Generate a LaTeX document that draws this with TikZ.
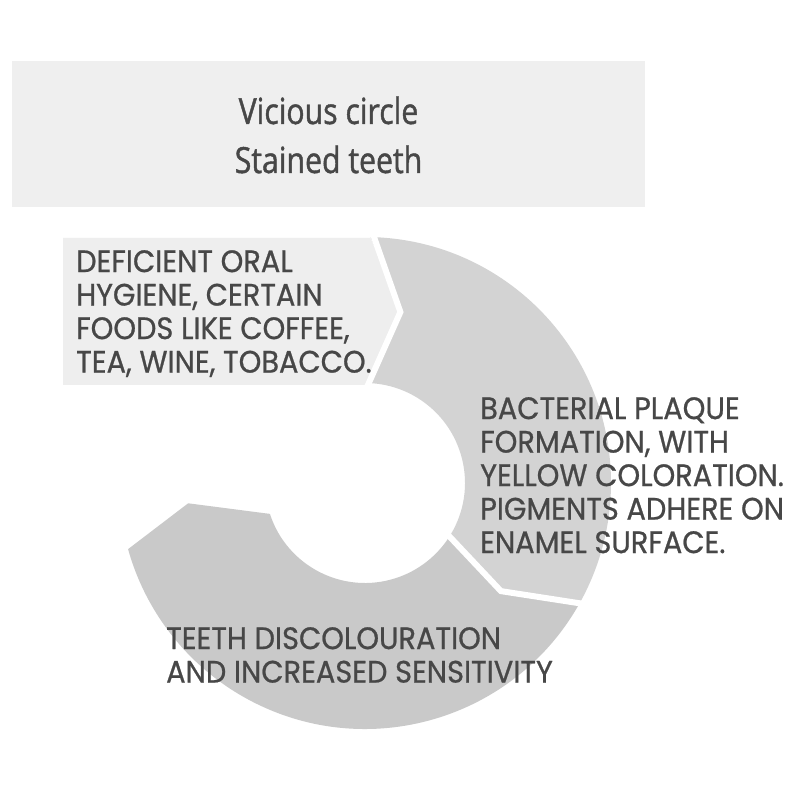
\documentclass[tikz,border=0pt]{standalone}
\usepackage{fontspec}
\newfontfamily\ringfont[FakeStretch=0.93,FakeBold=0.7]{Poppins}
\newfontfamily\titlefont[FakeStretch=0.84,FakeBold=1.2]{Open Sans}
\definecolor{titlebg}{HTML}{EFEFEF}
\definecolor{segone}{HTML}{EEEEEE}
\definecolor{segtwo}{HTML}{D3D3D3}
\definecolor{segthree}{HTML}{C9C9C9}
\definecolor{txt}{HTML}{474747}
\tikzset{
  titlebox/.style={fill=titlebg, draw=none, minimum width=633, minimum height=146, inner sep=0},
  titletext/.style={font=\titlefont\fontsize{36}{49}\selectfont, text=txt, anchor=base, inner sep=0},
  ringtext/.style={font=\ringfont\fontsize{31}{33.5}\selectfont, text=txt, anchor=north west, inner sep=0, align=left},
  gapline/.style={draw=white, line width=6},
}
\begin{document}
\begin{tikzpicture}[x=1pt,y=1pt]
\useasboundingbox (0,0) rectangle (800,800);
\fill[white] (0,0) rectangle (800,800);
% title
\node[titlebox] (title) at (328.5,665.5) {};
\node[titletext] (t1) at (328.5,676) {Vicious circle};
\node[titletext] (t2) at (328.5,627) {Stained teeth};
% ring segments
\begin{scope}[shift={(365,317)}]
\fill[segtwo] (88.7:246) arc[start angle=88.7, end angle=-28.6, radius=246] -- (-38.5:173.7) -- (-31.4:100) arc[start angle=-31.4, end angle=89.1, radius=100] -- (78.3:174.6) -- cycle;
\fill[segthree] (-28.6:246) arc[start angle=-28.6, end angle=-164.4, radius=246] -- (-173.45:178) -- (-162:100) arc[start angle=-162, end angle=-31.4, radius=100] -- (-38.5:173.7) -- cycle;
\end{scope}
\fill[segone] (63,562) -- (370.5,562) -- (400.5,488) -- (366.5,415) -- (63,415) -- cycle;
\begin{scope}[shift={(365,317)}]
\draw[gapline] (88.6:254) -- (78.3:174.6) -- (89.3:94);
\draw[gapline] (-28.6:254) -- (-38.5:173.7) -- (-31.4:94);
\end{scope}
% texts
\node[ringtext] (s1) at (76,550) {DEFICIENT ORAL\\HYGIENE, CERTAIN\\FOODS LIKE COFFEE,\\TEA, WINE, TOBACCO.};
\node[ringtext] (s2) at (480,403) {BACTERIAL PLAQUE\\FORMATION, WITH\\YELLOW COLORATION.\\PIGMENTS ADHERE ON\\ENAMEL SURFACE.};
\node[ringtext] (s3) at (166,173) {TEETH DISCOLOURATION\\AND INCREASED SENSITIVITY};
\end{tikzpicture}
\end{document}
